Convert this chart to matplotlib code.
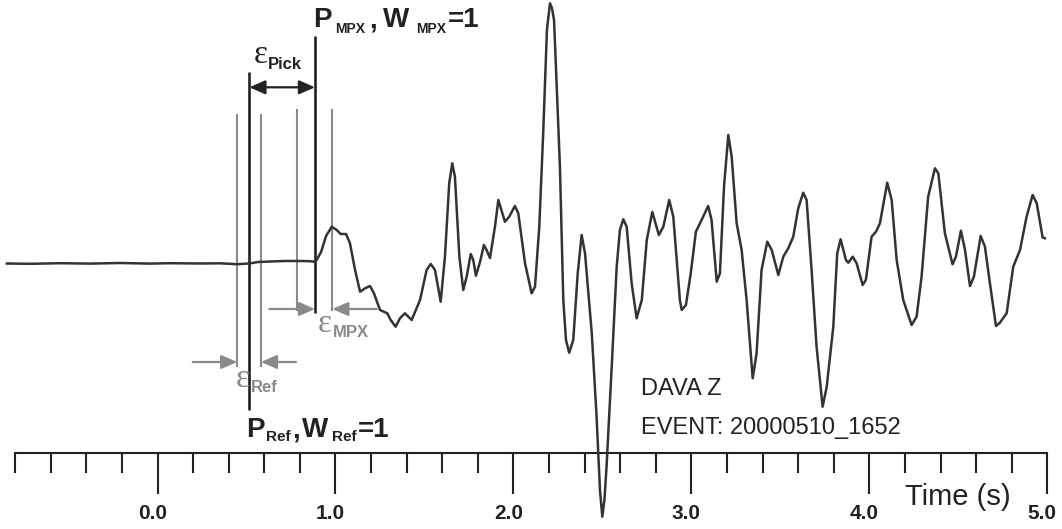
import matplotlib
matplotlib.use("Agg")
import matplotlib.pyplot as plt
import matplotlib.transforms as mtransforms

# seismogram trace, DAVA Z (time in s, amplitude in counts)
trace_t = [-0.846, -0.716, -0.548, -0.379, -0.211, -0.042, 0.070, 0.239, 0.351, 0.447,
           0.514, 0.565, 0.632, 0.716, 0.801, 0.857, 0.875, 0.894, 0.919, 0.947,
           0.979, 1.007,
           1.029, 1.059, 1.081, 1.110, 1.138, 1.166, 1.194, 1.216, 1.250, 1.291,
           1.310, 1.338, 1.362, 1.390, 1.428, 1.475, 1.512, 1.535, 1.559, 1.591,
           1.615, 1.639, 1.656, 1.671, 1.696, 1.718, 1.737, 1.760, 1.774, 1.789,
           1.812, 1.834, 1.849, 1.868, 1.896, 1.915, 1.952, 1.976, 2.008, 2.027,
           2.065, 2.102, 2.121, 2.145, 2.167, 2.188, 2.205, 2.216, 2.228, 2.261,
           2.280, 2.295, 2.313, 2.336, 2.361, 2.383, 2.402, 2.440, 2.467, 2.486,
           2.499, 2.511, 2.523, 2.552, 2.580, 2.598, 2.617, 2.636, 2.664, 2.692,
           2.721, 2.749, 2.780, 2.817, 2.842, 2.875, 2.898, 2.935, 2.945, 2.969,
           2.996, 3.025, 3.057, 3.094, 3.113, 3.142, 3.160, 3.183, 3.207, 3.226,
           3.254, 3.282, 3.310, 3.344, 3.366, 3.394, 3.426, 3.451, 3.488, 3.516,
           3.544, 3.572, 3.600, 3.628, 3.647, 3.675, 3.703, 3.737, 3.760, 3.797,
           3.819, 3.838, 3.868, 3.881, 3.906, 3.928, 3.962, 3.980, 4.012, 4.037,
           4.059, 4.100, 4.125, 4.153, 4.190, 4.237, 4.265, 4.293, 4.330, 4.368,
           4.387, 4.424, 4.467, 4.486, 4.514, 4.537, 4.565, 4.587, 4.625, 4.649,
           4.677, 4.711, 4.733, 4.771, 4.808, 4.846, 4.883, 4.917, 4.940, 4.973,
           4.986]
trace_amp = [0.5, 0.2, 0.8, 0.4, 1.0, 0.4, 0.8, 0.5, 0.7, -0.2,
             0.5, 2.0, 2.5, 3.0, 3.0, 2.8, 2.3, 4.0, 12.0, 28.0,
             37.3, 34.0,
             30.0, 30.0, 21.0, -6.0, -27.7, -24.3, -22.0, -29.3, -46.0, -49.3,
             -56.0, -62.7, -54.3, -49.3, -56.0, -36.0, -6.0, 0.0, -6.0, -37.7,
             7.3, 80.7, 100.7, 87.3, 7.3, -26.0, -12.7, 10.0, 4.0, -11.7,
             2.0, 19.0, 14.0, 6.0, 37.3, 64.0, 42.3, 47.3, 58.0, 50.7,
             0.7, -29.3, -22.7, 37.3, 130.7, 234.0, 260.7, 256.0, 244.0, 97.3,
             -36.0, -76.0, -88.7, -76.0, -9.3, 29.0, 10.7, -69.3, -152.7, -226.0,
             -252.7, -236.0, -202.7, -102.7, -2.7, 34.0, 44.7, 37.3, -19.3, -54.3,
             -36.0, 24.0, 52.0, 29.0, 37.3, 64.0, 47.3, -36.0, -46.0, -41.0,
             -9.3, 32.3, 44.0, 58.0, 44.0, -17.7, -9.3, 77.3, 129.0, 107.3,
             40.7, 14.0, -36.0, -114.3, -89.3, -6.0, 22.3, 14.0, -11.0, 7.3,
             15.7, 27.3, 55.7, 71.3, 64.0, -6.0, -82.7, -142.7, -122.7, -62.7,
             10.7, 24.7, 4.0, 1.3, 7.3, 0.7, -21.0, -16.0, 27.3, 32.3,
             40.7, 81.3, 64.0, 4.0, -36.0, -61.0, -52.7, -12.7, 67.3, 95.7,
             90.7, 30.7, -0.3, 7.3, 33.3, 14.0, -22.0, -12.7, 28.0, 17.3,
             -19.3, -62.0, -58.7, -49.3, -2.7, 14.0, 47.3, 69.0, 60.7, 26.7,
             25.7]

# picks (s)
p_ref = 0.516
p_mpx = 0.885
ref_err = [0.448, 0.581]   # reference pick uncertainty
mpx_err = [0.782, 0.982]   # MPX pick uncertainty

major_ticks = [0.0, 1.0, 2.0, 3.0, 4.0, 5.0]
major_labels = ['0.0', '1.0', '2.0', '3.0', '4.0', '5.0']
minor_ticks = [-0.8, -0.6, -0.4, -0.2, 0.2, 0.4, 0.6, 0.8, 1.2, 1.4, 1.6, 1.8,
               2.2, 2.4, 2.6, 2.8, 3.2, 3.4, 3.6, 3.8, 4.2, 4.4, 4.6, 4.8]

SANS = 'Liberation Sans'
SERIF = 'Liberation Serif'
DARK = '#222222'
GREY = '#8a8a8a'

fig = plt.figure(figsize=(10.62, 5.29), dpi=100)
ax = fig.add_axes([0, 0, 1, 1])
ax.set_xlim(-0.885, 5.082)
ax.set_ylim(-265, 264)

# time axis
for s in ['top', 'left', 'right']:
    ax.spines[s].set_visible(False)
ax.spines['bottom'].set_position(('data', -188.7))
ax.spines['bottom'].set_bounds(-0.8, 5.0)
ax.spines['bottom'].set_linewidth(1.5)
ax.spines['bottom'].set_color(DARK)
ax.set_yticks([])
ax.set_xticks(major_ticks)
ax.set_xticklabels(major_labels, fontsize=15, fontweight='bold', family=SANS, color=DARK)
ax.set_xticks(minor_ticks, minor=True)
ax.tick_params(axis='x', which='major', direction='out', length=29.5, width=1.5, color=DARK, pad=7.5)
ax.tick_params(axis='x', which='minor', direction='out', length=14.4, width=1.5, color=DARK)
shift = mtransforms.ScaledTranslation(-5 / 100, 0, fig.dpi_scale_trans)
for lab in ax.get_xticklabels():
    lab.set_transform(lab.get_transform() + shift)

# pick lines
ax.vlines(ref_err, -103, 150, color=GREY, lw=1.5)
ax.vlines(mpx_err, -47, 155, color=GREY, lw=1.5)
ax.vlines(p_ref, -146, 192, color=DARK, lw=1.9)
ax.vlines(p_mpx, -49, 228, color=DARK, lw=1.9)

# trace
ax.plot(trace_t, trace_amp, color='#333333', lw=1.8, solid_joinstyle='round', zorder=3)

# arrows
head = '-|>,head_length=0.8,head_width=0.35'
def arrow(x0, x1, y, color, style=head):
    ax.annotate('', xy=(x1, y), xytext=(x0, y),
                arrowprops=dict(arrowstyle=style, color=color, lw=1.6,
                                shrinkA=0, shrinkB=0, mutation_scale=12))

arrow(p_ref, p_mpx, 176.7, DARK, '<|-|>,head_length=0.8,head_width=0.35')
arrow(0.628, p_mpx, -45, GREY)
arrow(1.231, mpx_err[1], -45, GREY)
arrow(0.198, ref_err[0], -98, GREY)
arrow(0.778, ref_err[1], -98, GREY)

def put(x, y, s, size, color=DARK, weight='bold', family=SANS):
    ax.text(x, y, s, fontsize=size, color=color, fontweight=weight,
            family=family, ha='left', va='baseline')

# P_MPX , W_MPX=1
put(0.874, 237, 'P', 20)
put(0.997, 231, 'MPX', 10)
put(1.190, 237, ',', 20)
put(1.267, 237, 'W', 20)
put(1.452, 231, 'MPX', 10)
put(1.632, 237, '=1', 20)

# P_Ref , W_Ref=1
put(0.497, -173, 'P', 20)
put(0.610, -177, 'Ref', 11)
put(0.755, -173, ',', 20)
put(0.812, -173, 'W', 20)
put(0.980, -177, 'Ref', 11)
put(1.128, -173, '=1', 20)

# epsilons
put(0.542, 201, 'ε', 24, weight='normal', family=SERIF)
put(0.621, 195, 'Pick', 12)
put(0.902, -68, 'ε', 24, color=GREY, weight='normal', family=SERIF)
put(0.986, -73, 'MPX', 12, color=GREY)
put(0.441, -123, 'ε', 24, color=GREY, weight='normal', family=SERIF)
put(0.525, -128, 'Ref', 12, color=GREY)

# station / event
put(2.715, -131, 'DAVA Z', 17, weight='normal')
put(2.715, -170, 'EVENT: 20000510_1652', 17, weight='normal')
put(4.199, -241, 'Time (s)', 21, weight='normal')

fig.savefig('out.png', dpi=100)
